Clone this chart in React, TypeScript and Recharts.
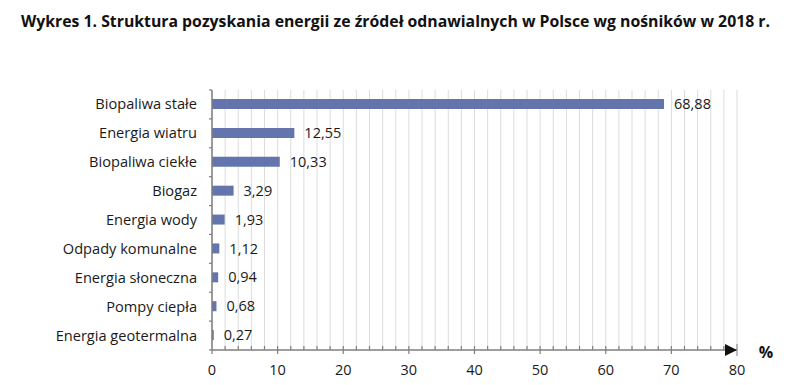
import { BarChart, Bar, XAxis, YAxis, CartesianGrid, LabelList } from 'recharts'

const categories = [
  'Biopaliwa stałe',
  'Energia wiatru',
  'Biopaliwa ciekłe',
  'Biogaz',
  'Energia wody',
  'Odpady komunalne',
  'Energia słoneczna',
  'Pompy ciepła',
  'Energia geotermalna',
]
const shares = [68.88, 12.55, 10.33, 3.29, 1.93, 1.12, 0.94, 0.68, 0.27]
const xTicks = [0, 2, 4, 6, 8, 10, 12, 14, 16, 18, 20, 22, 24, 26, 28, 30, 32, 34, 36, 38, 40, 42, 44, 46, 48, 50, 52, 54, 56, 58, 60, 62, 64, 66, 68, 70, 72, 74, 76, 78, 80]
const majorTicks = [0, 10, 20, 30, 40, 50, 60, 70, 80]

const data = categories.map((name, i) => ({ name, value: shares[i] }))

const FONT = '"Open Sans", "Noto Sans", sans-serif'
const AXIS = '#7f7f7f'
const BAND = 260 / categories.length

const fmt = (v: number) => v.toFixed(2).replace('.', ',')

function XTick(props: any) {
  const { x, y, payload } = props
  const v = payload.value
  const major = majorTicks.includes(v)
  return (
    <g>
      {v !== 0 && v !== 80 && (
        <line x1={x} x2={x} y1={y - 4} y2={major ? y + 4 : y} stroke={AXIS} strokeWidth={1.2} />
      )}
      {v === 0 && <line x1={x} x2={x} y1={y} y2={y + 4} stroke={AXIS} strokeWidth={1.2} />}
      {major && (
        <text x={x} y={y + 25} textAnchor="middle" fontSize={14.5} fontFamily={FONT} fill="#1a1a1a">
          {v}
        </text>
      )}
      {v === 80 && (
        <g>
          <polygon points={`${x - 12},${y - 6} ${x},${y} ${x - 12},${y + 6}`} fill="#111" />
          <line x1={x} x2={x} y1={y - 6} y2={y + 6} stroke={AXIS} strokeWidth={1} />
          <text x={x + 29} y={y + 8} textAnchor="middle" fontSize={16} fontWeight="bold" fontFamily={FONT} fill="#111">
            %
          </text>
        </g>
      )}
    </g>
  )
}

function YTick(props: any) {
  const { x, y, payload, index } = props
  return (
    <g>
      <line x1={x - 3} x2={x} y1={y - BAND / 2} y2={y - BAND / 2} stroke={AXIS} strokeWidth={1.2} />
      {index === categories.length - 1 && (
        <line x1={x - 3} x2={x} y1={y + BAND / 2} y2={y + BAND / 2} stroke={AXIS} strokeWidth={1.2} />
      )}
      <text x={x - 15} y={y + 5} textAnchor="end" fontSize={14.6} fontFamily={FONT} fill="#1a1a1a">
        {payload.value}
      </text>
    </g>
  )
}

export default function App() {
  return (
    <div style={{ position: 'relative', width: 778, height: 377, background: '#fff' }}>
      <div
        style={{
          position: 'absolute',
          left: 13,
          top: 2,
          fontFamily: FONT,
          fontWeight: 'bold',
          fontSize: 15.8,
          color: '#111',
          whiteSpace: 'nowrap',
        }}
      >
        Wykres 1. Struktura pozyskania energii ze źródeł odnawialnych w Polsce wg nośników w 2018 r.
      </div>
      <BarChart
        width={778}
        height={377}
        data={data}
        layout="vertical"
        margin={{ top: 82, right: 49, bottom: 5, left: 0 }}
        barCategoryGap={0}
      >
        <CartesianGrid horizontal={false} stroke="#dcdcdc" strokeWidth={1} />
        <XAxis
          type="number"
          domain={[0, 80]}
          ticks={xTicks}
          interval={0}
          tickSize={0}
          tickMargin={0}
          height={30}
          axisLine={{ stroke: AXIS, strokeWidth: 1.5 }}
          tickLine={false}
          tick={<XTick />}
        />
        <YAxis
          type="category"
          dataKey="name"
          width={204}
          tickSize={0}
          tickMargin={0}
          interval={0}
          axisLine={{ stroke: AXIS, strokeWidth: 1.5 }}
          tickLine={false}
          tick={<YTick />}
        />
        <Bar dataKey="value" fill="#6474ad" barSize={10} isAnimationActive={false}>
          <LabelList
            dataKey="value"
            position="right"
            offset={10}
            formatter={(v: any) => fmt(Number(v))}
            style={{ fontSize: 14.5, fontFamily: FONT, fill: '#1a1a1a' }}
          />
        </Bar>
      </BarChart>
    </div>
  )
}
